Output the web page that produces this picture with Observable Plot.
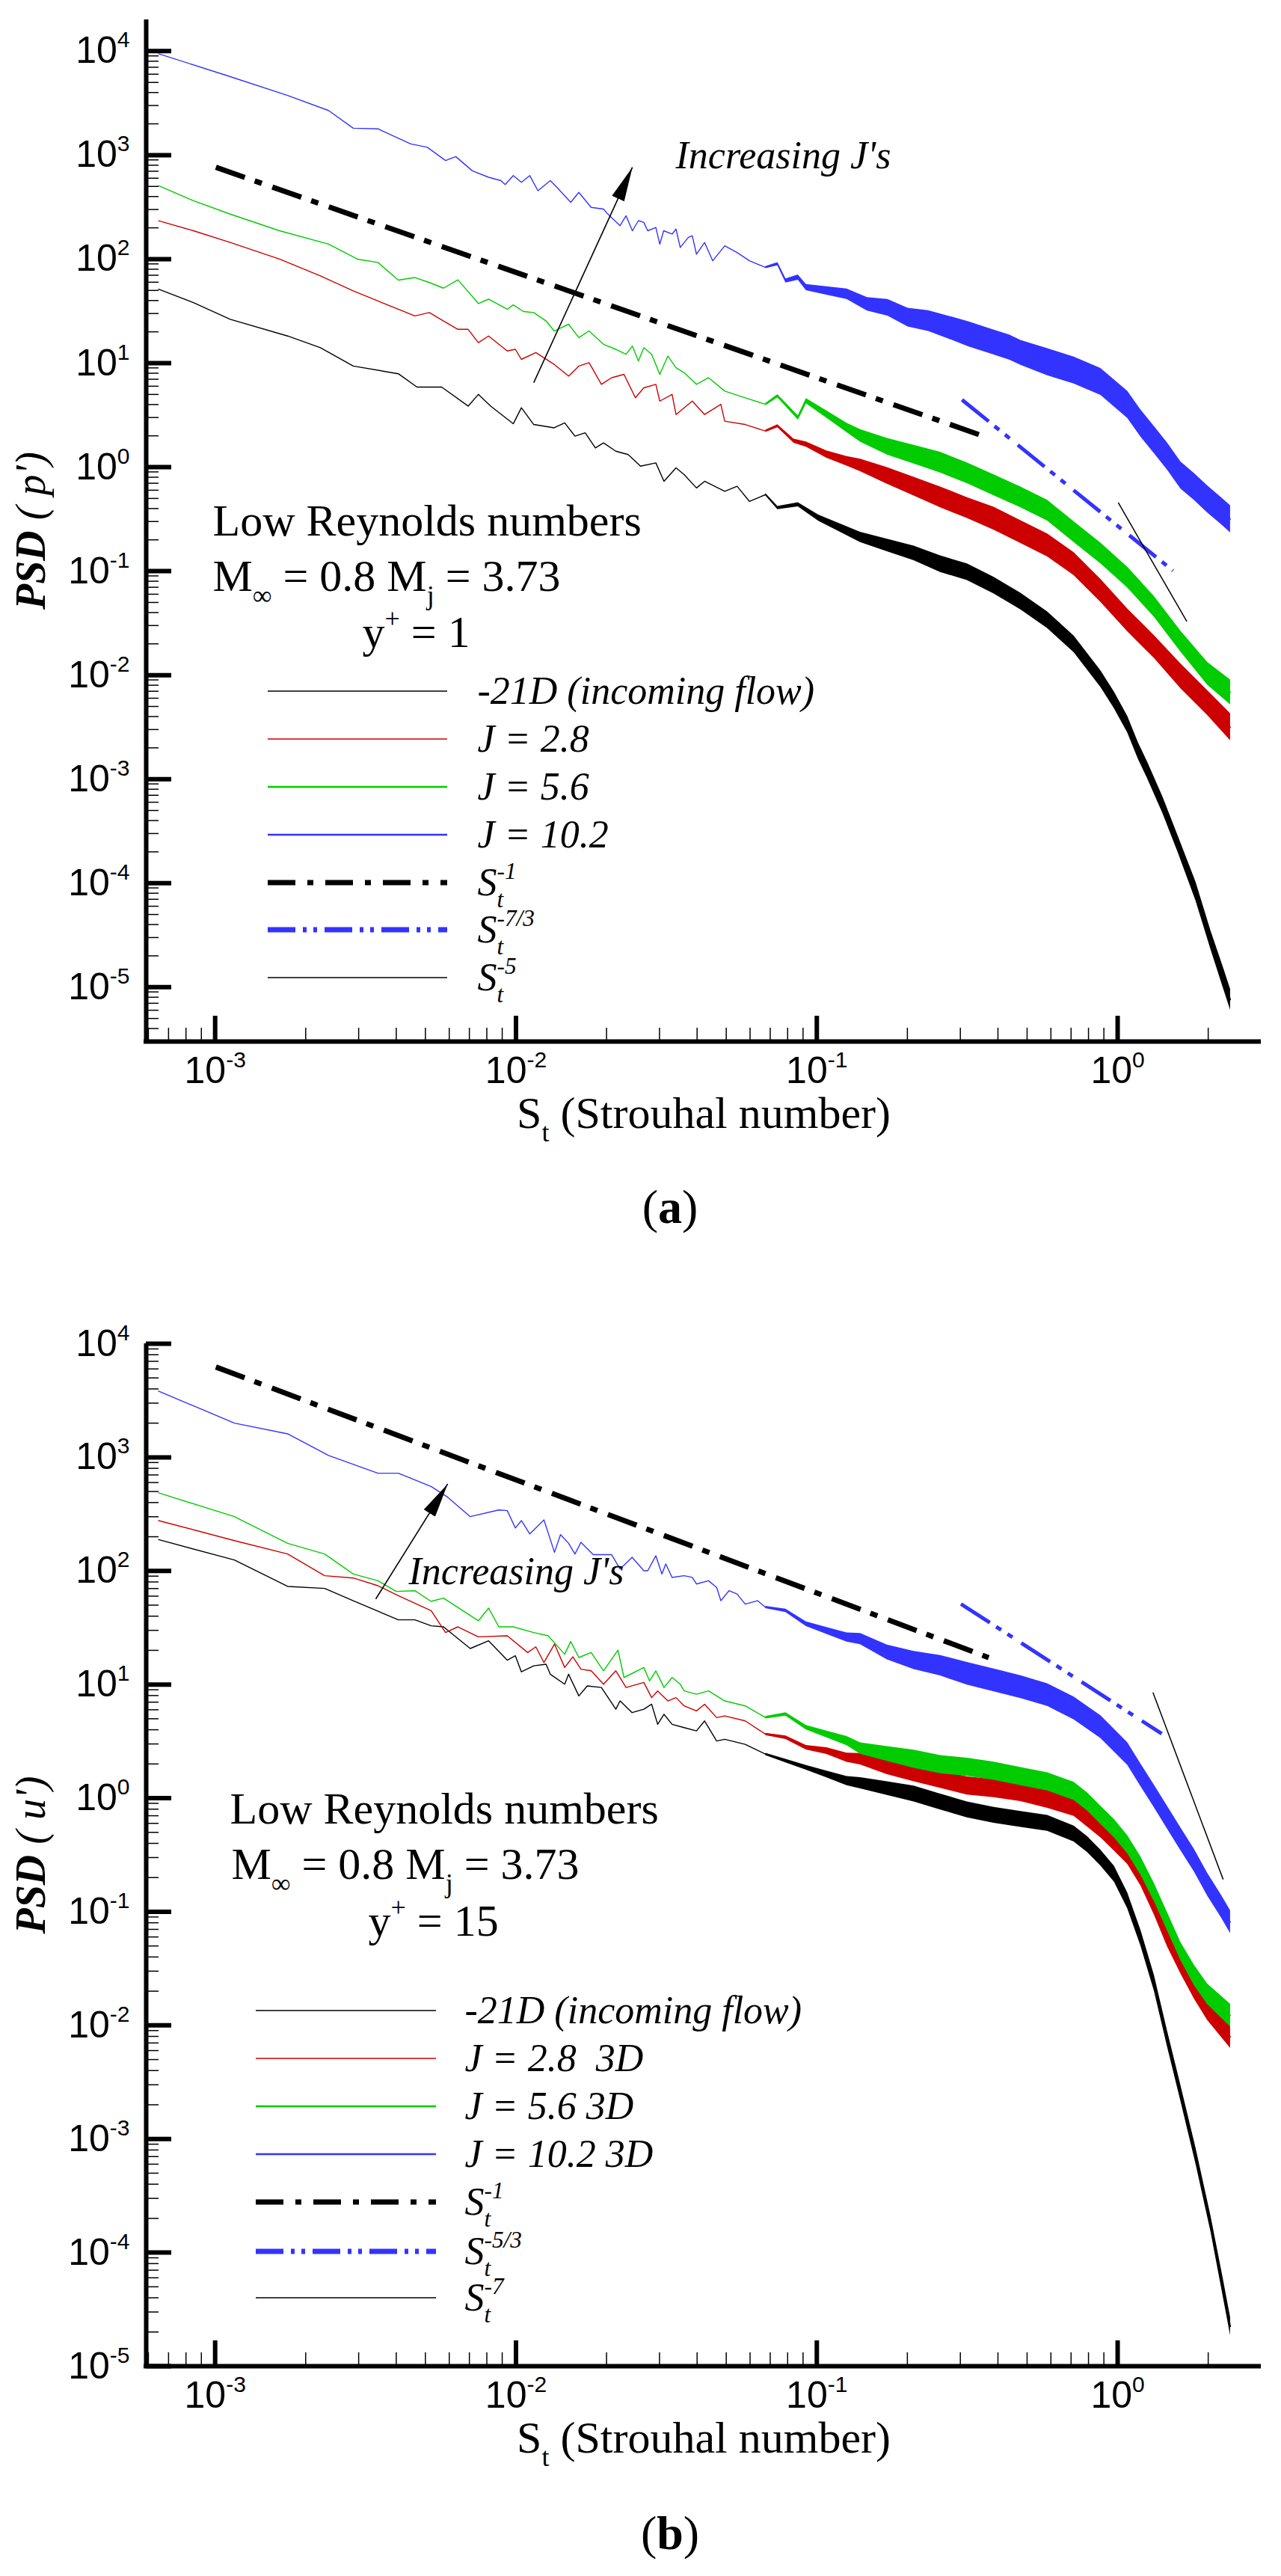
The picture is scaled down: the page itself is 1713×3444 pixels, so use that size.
<!DOCTYPE html>
<html><head><meta charset="utf-8">
<script src="https://cdn.jsdelivr.net/npm/d3@7"></script>
<script src="https://cdn.jsdelivr.net/npm/@observablehq/plot@0.6"></script>
<style>
body{margin:0;background:#fff;}
#page{position:relative;width:1713px;height:3444px;background:#fff;overflow:hidden;}
#page svg{position:absolute;left:0;}
.cap{position:absolute;font-family:"Liberation Serif",serif;font-size:64px;line-height:1;transform:translateX(-50%);white-space:nowrap;}
</style></head><body><div id="page"></div>
<script>
// ---------- data (log10 St, log10 PSD, noise half-width in decades) ----------
const A_incoming = [[-3.188,1.711],[-3.072,1.582],[-2.950,1.422],[-2.759,1.261],[-2.650,1.149],[-2.541,0.972],[-2.391,0.898],[-2.329,0.770],[-2.247,0.770],[-2.159,0.587],[-2.125,0.699],[-2.084,0.587],[-2.009,0.417],[-1.982,0.571],[-1.941,0.410],[-1.873,0.378],[-1.838,0.426],[-1.804,0.298],[-1.770,0.330],[-1.736,0.185],[-1.709,0.233],[-1.668,0.153],[-1.627,0.121],[-1.586,0.009],
[-1.535,0.041],[-1.508,-0.136],[-1.468,-0.007],[-1.441,-0.072],[-1.400,-0.200],[-1.373,-0.136],[-1.306,-0.232],[-1.265,-0.184],[-1.224,-0.329],[-1.170,-0.264,0.01],[-1.130,-0.393,0.015],[-1.062,-0.361,0.02],[-0.994,-0.489,0.03],
[-0.855,-0.675,0.05],[-0.766,-0.752,0.06],[-0.677,-0.829,0.07],[-0.589,-0.932,0.08],[-0.500,-1.009,0.08],[-0.411,-1.138,0.08],[-0.322,-1.292,0.08],[-0.233,-1.472,0.08],[-0.145,-1.703,0.08],[-0.056,-2.037,0.08],[-0.011,-2.243,0.08],[0.033,-2.474,0.08],[0.069,-2.731,0.08],[0.100,-2.920,0.08],[0.150,-3.250,0.08],[0.200,-3.620,0.08],[0.260,-4.080,0.09],[0.310,-4.550,0.09],[0.350,-4.900,0.1],[0.375,-5.120,0.1]];
const A_J28 = [[-3.188,2.369],[-3.072,2.273],[-2.950,2.160],[-2.786,2.000],[-2.650,1.839],[-2.541,1.695],[-2.459,1.598],[-2.336,1.454],[-2.288,1.486],[-2.241,1.406],[-2.193,1.325],[-2.159,1.325],[-2.125,1.197],[-2.091,1.261],[-2.029,1.117],[-2.002,1.133],[-1.982,1.036],[-1.934,1.101],[-1.873,0.988],[-1.825,0.876],[-1.791,0.972],[-1.757,1.004],[-1.716,0.796],[-1.682,0.860],[-1.641,0.892],[-1.603,0.667],[-1.575,0.763],
[-1.535,0.796],[-1.522,0.635],[-1.481,0.699],[-1.468,0.506],[-1.414,0.635],[-1.373,0.506],[-1.319,0.603],[-1.306,0.442],[-1.238,0.410],[-1.170,0.346,0.01],[-1.130,0.394,0.015],[-1.076,0.250,0.02],[-1.035,0.218,0.025],[-0.967,0.121,0.035],[-0.900,0.057,0.045],
[-0.855,0.018,0.06],[-0.766,-0.084,0.08],[-0.677,-0.187,0.09],[-0.589,-0.290,0.1],[-0.500,-0.392,0.1],[-0.411,-0.495,0.11],[-0.322,-0.624,0.11],[-0.233,-0.752,0.11],[-0.145,-0.932,0.11],[-0.056,-1.189,0.11],[0.033,-1.472,0.11],[0.122,-1.729,0.11],[0.210,-2.011,0.12],[0.299,-2.268,0.12],[0.375,-2.500,0.13]];
const A_J56 = [[-3.188,2.706],[-3.072,2.562],[-2.950,2.433],[-2.786,2.273],[-2.623,2.144],[-2.527,2.000],[-2.459,1.968],[-2.391,1.798],[-2.336,1.823],[-2.288,1.775],[-2.241,1.721],[-2.193,1.801],[-2.125,1.573],[-2.091,1.615],[-2.029,1.518],[-2.009,1.560],[-1.975,1.496],[-1.941,1.486],[-1.900,1.406],[-1.873,1.309],[-1.825,1.374],[-1.791,1.245],[-1.757,1.309],[-1.709,1.181],[-1.668,1.133],[-1.634,1.085],[-1.613,1.165],[-1.593,1.020],[-1.575,1.149],
[-1.549,1.085],[-1.522,0.892],[-1.495,1.068],[-1.468,0.956],[-1.441,0.908],[-1.400,0.796],[-1.360,0.860],[-1.306,0.731],[-1.238,0.667],[-1.170,0.603,0.01],[-1.130,0.683,0.015],[-1.062,0.474,0.02],[-1.035,0.635,0.025],[-0.967,0.506,0.035],[-0.900,0.378,0.045],
[-0.855,0.301,0.06],[-0.766,0.198,0.08],[-0.677,0.121,0.09],[-0.589,0.044,0.1],[-0.500,-0.058,0.1],[-0.411,-0.174,0.1],[-0.322,-0.290,0.1],[-0.233,-0.418,0.1],[-0.145,-0.624,0.1],[-0.056,-0.829,0.1],[0.033,-1.061,0.1],[0.122,-1.343,0.1],[0.210,-1.677,0.1],[0.299,-1.986,0.11],[0.375,-2.165,0.12]];
const A_J102 = [[-3.188,3.975],[-2.963,3.767],[-2.759,3.574],[-2.623,3.429],[-2.541,3.259],[-2.459,3.253],[-2.350,3.108],[-2.295,3.076],[-2.234,2.948],[-2.200,2.986],[-2.145,2.849],[-2.091,2.787],[-2.050,2.755],[-2.036,2.717],[-2.009,2.803],[-1.982,2.739],[-1.954,2.803],[-1.927,2.658],[-1.886,2.755],[-1.859,2.675],[-1.818,2.546],[-1.791,2.642],[-1.750,2.498],[-1.709,2.482],[-1.695,2.434],[-1.654,2.322],[-1.634,2.417],[-1.613,2.273],[-1.593,2.370],[-1.575,2.353],
[-1.562,2.273],[-1.535,2.305],[-1.522,2.144],[-1.509,2.273],[-1.481,2.241],[-1.468,2.289],[-1.454,2.112],[-1.427,2.209],[-1.414,2.225],[-1.400,2.048],[-1.373,2.160],[-1.346,1.984],[-1.306,2.128],[-1.265,2.064],[-1.224,1.984],[-1.170,1.920,0.01],[-1.130,1.952,0.015],[-1.103,1.791,0.02],[-1.062,1.823,0.025],[-1.035,1.727,0.03],[-0.967,1.695,0.04],[-0.900,1.663,0.05],[-0.832,1.566,0.065],[-0.764,1.534,0.08],[-0.697,1.438,0.09],[-0.629,1.406,0.1],[-0.561,1.342,0.11],[-0.494,1.277,0.12],[-0.426,1.213,0.12],[-0.358,1.149,0.12],
[-0.322,1.100,0.12],[-0.233,1.010,0.13],[-0.145,0.930,0.13],[-0.056,0.820,0.13],[0.033,0.600,0.13],[0.077,0.420,0.13],[0.122,0.260,0.13],[0.166,0.100,0.13],[0.210,-0.080,0.13],[0.255,-0.190,0.13],[0.299,-0.310,0.13],[0.344,-0.420,0.13],[0.375,-0.500,0.13]];

const B_incoming = [[-3.188,2.276],[-2.936,2.096],[-2.759,1.864],[-2.636,1.846],[-2.541,1.738],[-2.391,1.570],[-2.336,1.570],[-2.282,1.517],[-2.241,1.508],[-2.152,1.317],[-2.091,1.385],[-2.029,1.215],[-2.002,1.253],[-1.982,1.112],[-1.941,1.165],[-1.900,1.179],[-1.886,1.091],[-1.838,1.003],[-1.825,1.091],[-1.791,0.900],[-1.763,0.988],[-1.716,0.974],[-1.668,0.783],[-1.654,0.856],[-1.614,0.753],[-1.575,0.783],
[-1.549,0.827],[-1.529,0.650],[-1.508,0.738],[-1.481,0.650],[-1.441,0.621],[-1.400,0.592],[-1.373,0.680],[-1.333,0.503],[-1.306,0.518],[-1.238,0.474],[-1.170,0.386,0.01],[-1.103,0.327,0.015],[-1.035,0.268,0.02],[-0.967,0.209,0.03],[-0.900,0.151,0.04],
[-0.855,0.132,0.05],[-0.766,0.085,0.06],[-0.677,0.038,0.07],[-0.589,-0.033,0.07],[-0.500,-0.103,0.07],[-0.411,-0.150,0.07],[-0.322,-0.186,0.07],[-0.233,-0.221,0.07],[-0.145,-0.315,0.07],[-0.100,-0.409,0.07],[-0.056,-0.527,0.07],[-0.011,-0.668,0.07],[0.033,-0.903,0.07],[0.077,-1.232,0.07],[0.122,-1.632,0.07],[0.166,-2.125,0.07],[0.210,-2.600,0.07],[0.260,-3.150,0.07],[0.310,-3.750,0.07],[0.350,-4.300,0.08],[0.375,-4.650,0.08]];
const B_J28 = [[-3.188,2.443],[-2.936,2.267],[-2.759,2.149],[-2.636,1.958],[-2.541,1.938],[-2.459,1.870],[-2.391,1.782],[-2.282,1.650],[-2.234,1.458],[-2.193,1.508],[-2.125,1.420],[-2.029,1.429],[-1.961,1.282],[-1.934,1.332],[-1.907,1.194],[-1.872,1.356],[-1.838,1.150],[-1.811,1.244],[-1.784,1.135],[-1.750,1.121],[-1.709,1.003],[-1.668,1.121],[-1.634,0.974],[-1.575,1.018],
[-1.549,0.885],[-1.529,0.944],[-1.495,0.856],[-1.468,0.885],[-1.441,0.812],[-1.400,0.768],[-1.373,0.827],[-1.333,0.709],[-1.306,0.724],[-1.238,0.680],[-1.170,0.562,0.01],[-1.103,0.533,0.015],[-1.035,0.445,0.02],[-0.967,0.415,0.03],[-0.900,0.357,0.04],
[-0.855,0.343,0.05],[-0.766,0.273,0.065],[-0.677,0.226,0.08],[-0.589,0.167,0.08],[-0.500,0.108,0.08],[-0.411,0.085,0.08],[-0.322,0.050,0.08],[-0.233,-0.009,0.08],[-0.145,-0.080,0.08],[-0.100,-0.174,0.08],[-0.056,-0.268,0.08],[-0.011,-0.385,0.08],[0.033,-0.503,0.08],[0.077,-0.691,0.08],[0.122,-0.950,0.08],[0.166,-1.232,0.08],[0.210,-1.467,0.08],[0.255,-1.679,0.09],[0.299,-1.867,0.09],[0.375,-2.102,0.1]];
const B_J56 = [[-3.188,2.687],[-2.936,2.478],[-2.759,2.243],[-2.636,2.149],[-2.541,1.973],[-2.459,1.914],[-2.398,1.820],[-2.336,1.826],[-2.282,1.732],[-2.241,1.761],[-2.125,1.561],[-2.091,1.673],[-2.057,1.508],[-2.009,1.508],[-1.941,1.458],[-1.893,1.429],[-1.838,1.267],[-1.818,1.379],[-1.791,1.238],[-1.750,1.282],[-1.709,1.121],[-1.661,1.303],[-1.641,1.062],[-1.575,1.150],
[-1.556,1.032],[-1.535,1.120],[-1.508,0.974],[-1.481,1.062],[-1.454,1.003],[-1.441,0.944],[-1.400,0.915],[-1.360,0.944],[-1.306,0.856],[-1.238,0.812],[-1.170,0.709,0.01],[-1.103,0.738,0.015],[-1.035,0.621,0.02],[-0.967,0.562,0.03],[-0.900,0.503,0.04],
[-0.855,0.437,0.05],[-0.766,0.390,0.065],[-0.677,0.343,0.08],[-0.589,0.296,0.08],[-0.500,0.273,0.08],[-0.411,0.238,0.08],[-0.322,0.191,0.08],[-0.233,0.144,0.08],[-0.145,0.061,0.08],[-0.100,-0.033,0.08],[-0.056,-0.150,0.08],[-0.011,-0.268,0.08],[0.033,-0.409,0.08],[0.077,-0.597,0.08],[0.122,-0.832,0.08],[0.166,-1.091,0.08],[0.210,-1.350,0.08],[0.255,-1.561,0.09],[0.299,-1.726,0.09],[0.375,-1.914,0.1]];
const B_J102 = [[-3.188,3.583],[-2.936,3.301],[-2.759,3.207],[-2.623,3.016],[-2.459,2.860],[-2.391,2.860],[-2.282,2.743],[-2.227,2.649],[-2.152,2.478],[-2.057,2.537],[-2.029,2.531],[-2.002,2.378],[-1.982,2.443],[-1.954,2.326],[-1.907,2.449],[-1.872,2.164],[-1.852,2.320],[-1.825,2.243],[-1.804,2.149],[-1.784,2.252],[-1.743,2.143],[-1.682,2.143],[-1.654,2.017],[-1.614,2.120],[-1.575,2.002],
[-1.562,2.002],[-1.535,2.134],[-1.515,1.973],[-1.502,2.061],[-1.481,1.943],[-1.441,1.958],[-1.414,1.943],[-1.400,1.885],[-1.360,1.914],[-1.333,1.855],[-1.319,1.738],[-1.292,1.826],[-1.265,1.797],[-1.238,1.708],[-1.197,1.738],[-1.170,1.679,0.01],[-1.103,1.650,0.015],[-1.035,1.532,0.02],[-0.967,1.473,0.03],[-0.900,1.415,0.04],
[-0.855,1.401,0.05],[-0.766,1.284,0.065],[-0.677,1.213,0.08],[-0.589,1.166,0.09],[-0.500,1.096,0.1],[-0.411,1.037,0.1],[-0.322,0.978,0.1],[-0.233,0.908,0.1],[-0.145,0.790,0.1],[-0.056,0.626,0.1],[0.033,0.390,0.1],[0.077,0.202,0.1],[0.122,0.014,0.1],[0.166,-0.174,0.1],[0.210,-0.362,0.1],[0.255,-0.550,0.1],[0.299,-0.762,0.1],[0.344,-0.950,0.1],[0.375,-1.091,0.1]];

// power-law guide lines (end points, log10)
const A_slope1 = [[-2.9975,2.883],[-0.4287,0.2806]];
const A_slope73 = [[-0.5174,0.648],[0.1839,-0.996]];
const A_slope5 = [[0.0019,-0.341],[0.2300,-1.4846]];
const B_slope1 = [[-2.9975,3.795],[-0.4287,1.237]];
const B_slope53 = [[-0.5208,1.709],[0.1466,0.567]];
const B_slope7 = [[0.1173,0.931],[0.3508,-0.715]];
// "Increasing J's" arrows (tail, tip), log10
const A_arrow = [[-1.941,0.812],[-1.613,2.883]];
const B_arrow = [[-2.466,1.753],[-2.227,2.766]];

// axes / labels
const xDomain = [5.9e-4, 3.0];
const majorsX = [1e-3, 1e-2, 1e-1, 1];
const majorsY = [1e-5, 1e-4, 1e-3, 1e-2, 1e-1, 1, 1e1, 1e2, 1e3, 1e4];
const A_yDomain = [3e-6, 2e4];
const B_yDomain = [1e-5, 1e4];
const A_legend = ["-21D (incoming flow)", "J = 2.8", "J = 5.6", "J = 10.2", "S_{t}^{-1}", "S_{t}^{-7/3}", "S_{t}^{-5}"];
const B_legend = ["-21D (incoming flow)", "J = 2.8  3D", "J = 5.6 3D", "J = 10.2 3D", "S_{t}^{-1}", "S_{t}^{-5/3}", "S_{t}^{-7}"];
const A_notes = ["Low Reynolds numbers", "M_{∞} = 0.8 M_{j} = 3.73", "y^{+} = 1"];
const B_notes = ["Low Reynolds numbers", "M_{∞} = 0.8 M_{j} = 3.73", "y^{+} = 15"];
const incText = "Increasing J's";
const xTitle = "S_{t} (Strouhal number)";
const A_yTitle = "*{PSD} ( p')";
const B_yTitle = "*{PSD} ( u')";

const BLACK = "#000000", RED = "#cc0000", GREEN = "#00cc00", BLUE = "#3333ff";
const legendStyles = [
  {c: BLACK, w: 1.5}, {c: RED, w: 1.5}, {c: GREEN, w: 2.5}, {c: BLUE, w: 2.5},
  {c: BLACK, w: 7, dash: "37,16,8,16"}, {c: BLUE, w: 7, dash: "37,10,5,9,5,10"}, {c: BLACK, w: 1.5}
];

// ---------- helpers ----------
const NS = "http://www.w3.org/2000/svg";
function minorTicks([a, b]) {
  const out = [];
  for (let e = Math.floor(Math.log10(a)) - 1; e <= Math.ceil(Math.log10(b)); e++)
    for (let m = 2; m <= 9; m++) { const v = m * 10 ** e; if (v > a * 1.0001 && v < b * 0.9999) out.push(v); }
  return out;
}
const expLabel = d => `10^{${Math.round(Math.log10(d))}}`;
const toPts = arr => arr.map(([lx, ly, w = 0]) => ({St: 10 ** lx, P: 10 ** ly, lo: 10 ** (ly - w), hi: 10 ** (ly + w), w}));

function filledArrow(color, context) {
  const doc = (context && context.document) || document;
  const m = doc.createElementNS(NS, "marker");
  m.setAttribute("viewBox", "-46 -10 46 20");
  m.setAttribute("markerUnits", "userSpaceOnUse");
  m.setAttribute("markerWidth", "46");
  m.setAttribute("markerHeight", "20");
  m.setAttribute("refX", "0"); m.setAttribute("refY", "0");
  m.setAttribute("orient", "auto");
  const p = doc.createElementNS(NS, "path");
  p.setAttribute("d", "M0,0L-46,-9L-46,9Z");
  p.setAttribute("fill", color === "currentColor" ? "black" : color);
  p.setAttribute("stroke", "none");
  m.appendChild(p);
  return m;
}

function buildPanel(cfg, marker) {
  const W = 1713, mL = 195, mR = 27;
  const fw = W - mL - mR, fh = cfg.frameBottom - cfg.marginTop;
  const marks = [];
  for (const s of cfg.series) {
    const pts = toPts(s.data);
    marks.push(Plot.areaY(pts.filter(d => d.w > 0), {x: "St", y1: "lo", y2: "hi", fill: s.color, curve: "linear"}));
    marks.push(Plot.line(pts, {x: "St", y: "P", stroke: s.color, strokeWidth: 1.4}));
  }
  for (const l of cfg.laws) {
    marks.push(Plot.line(toPts(l.pts), {x: "St", y: "P", stroke: l.color, strokeWidth: l.w, strokeDasharray: l.dash, strokeLinecap: "butt"}));
  }
  marks.push(Plot.link([cfg.arrow], {
    x1: d => 10 ** d[0][0], y1: d => 10 ** d[0][1], x2: d => 10 ** d[1][0], y2: d => 10 ** d[1][1],
    stroke: "black", strokeWidth: 1.6, markerEnd: marker
  }));
  // axis lines and inward ticks
  marks.push(Plot.ruleX([xDomain[0]], {stroke: "black", strokeWidth: 6}));
  marks.push(Plot.ruleY([cfg.yDomain[0]], {stroke: "black", strokeWidth: 6, insetLeft: -3}));
  marks.push(Plot.tickX(majorsX, {x: d => d, stroke: "black", strokeWidth: 6, insetTop: fh - 34}));
  marks.push(Plot.tickX(minorTicks(xDomain), {x: d => d, stroke: "black", strokeWidth: 1.5, insetTop: fh - 18}));
  marks.push(Plot.tickY(majorsY.filter(v => v >= cfg.yDomain[0] && v <= cfg.yDomain[1]), {y: d => d, stroke: "black", strokeWidth: 6, insetRight: fw - 34}));
  marks.push(Plot.tickY(minorTicks(cfg.yDomain), {y: d => d, stroke: "black", strokeWidth: 1.5, insetRight: fw - 17}));
  marks.push(Plot.axisX(majorsX, {anchor: "bottom", tickSize: 0, tickPadding: 20, tickFormat: expLabel, fontSize: 50, fontFamily: "Liberation Sans", label: null}));
  marks.push(Plot.axisY(majorsY.filter(v => v >= cfg.yDomain[0] && v <= cfg.yDomain[1]), {anchor: "left", tickSize: 0, tickPadding: 22, tickFormat: expLabel, fontSize: 50, fontFamily: "Liberation Sans", label: null}));
  // titles
  marks.push(Plot.text([0], {text: () => xTitle, frameAnchor: "bottom", dy: 115, lineAnchor: "bottom", fontSize: 60, fontFamily: "Liberation Serif"}));
  marks.push(Plot.text([0], {text: () => cfg.yTitle, frameAnchor: "left", dx: -153, rotate: -90, textAnchor: "middle", lineAnchor: "middle", fontSize: 56, fontStyle: "italic", fontFamily: "Liberation Serif"}));
  // annotations
  cfg.notes.forEach((t, i) => {
    const [x, y] = cfg.notePos[i];
    marks.push(Plot.text([0], {text: () => t, frameAnchor: "top-left", dx: x - mL, dy: y - cfg.marginTop, textAnchor: "start", lineAnchor: "bottom", fontSize: 60, fontFamily: "Liberation Serif"}));
  });
  marks.push(Plot.text([0], {text: () => incText, frameAnchor: "top-left", dx: cfg.incPos[0] - mL, dy: cfg.incPos[1] - cfg.marginTop, textAnchor: "start", lineAnchor: "bottom", fontSize: 52, fontStyle: "italic", fontFamily: "Liberation Serif"}));
  // legend labels
  cfg.legend.forEach((t, i) => {
    marks.push(Plot.text([0], {text: () => t, frameAnchor: "top-left", dx: cfg.legTextX - mL, dy: cfg.legRows[i] - cfg.marginTop, textAnchor: "start", lineAnchor: "middle", fontSize: 52, fontStyle: "italic", fontFamily: "Liberation Serif"}));
  });
  const svg = Plot.plot({
    width: W, height: cfg.height,
    marginLeft: mL, marginRight: mR, marginTop: cfg.marginTop, marginBottom: cfg.height - cfg.frameBottom,
    x: {type: "log", domain: xDomain},
    y: {type: "log", domain: cfg.yDomain},
    style: {background: "white", overflow: "visible", fontFamily: "Liberation Serif"},
    marks
  });
  // legend swatches
  const g = d3.select(svg).append("g").attr("class", "legend-swatches");
  cfg.legRows.forEach((r, i) => {
    const st = legendStyles[i];
    g.append("line").attr("x1", cfg.legX[0]).attr("x2", cfg.legX[1]).attr("y1", r).attr("y2", r)
      .attr("stroke", st.c).attr("stroke-width", st.w).attr("stroke-dasharray", st.dash || null);
  });
  return svg;
}

function richify(el) {
  const raw = el.textContent;
  if (!/[\^_*]\{/.test(raw)) return;
  const fs = parseFloat(getComputedStyle(el).fontSize) || 50;
  const tokens = [];
  let i = 0, buf = "";
  while (i < raw.length) {
    const c = raw[i];
    if ((c === "^" || c === "_" || c === "*") && raw[i + 1] === "{") {
      if (buf) tokens.push({type: "n", text: buf});
      buf = "";
      const j = raw.indexOf("}", i + 2);
      tokens.push({type: c === "^" ? "sup" : c === "_" ? "sub" : "b", text: raw.slice(i + 2, j)});
      i = j + 1;
    } else { buf += c; i++; }
  }
  if (buf) tokens.push({type: "n", text: buf});
  el.textContent = "";
  el.setAttribute("xml:space", "preserve");
  el.style.whiteSpace = "pre";
  let cur = 0, prev = null;
  for (const t of tokens) {
    const ts = document.createElementNS(NS, "tspan");
    ts.textContent = t.text;
    let target = 0;
    if (t.type === "sup") { target = -0.42 * fs; ts.setAttribute("font-size", 0.6 * fs); }
    else if (t.type === "sub") { target = 0.3 * fs; ts.setAttribute("font-size", 0.6 * fs); }
    else if (t.type === "b") { ts.setAttribute("font-weight", "bold"); }
    const dy = target - cur;
    if (dy) ts.setAttribute("dy", dy.toFixed(2));
    cur = target;
    el.appendChild(ts);
    if (t.type === "sup" && prev && prev.type === "sub") {
      const w = prev.el.getComputedTextLength();
      ts.setAttribute("dx", (-w).toFixed(2));
    }
    prev = {type: t.type, el: ts};
  }
}

const panelA = {
  height: 1560, marginTop: 26, frameBottom: 1392, yDomain: A_yDomain,
  series: [{data: A_incoming, color: BLACK}, {data: A_J28, color: RED}, {data: A_J56, color: GREEN}, {data: A_J102, color: BLUE}],
  laws: [
    {pts: A_slope1, color: BLACK, w: 7, dash: "41,14,10,15"},
    {pts: A_slope73, color: BLUE, w: 5, dash: "46,10,8,10,8,14"},
    {pts: A_slope5, color: BLACK, w: 1.5}
  ],
  arrow: A_arrow, yTitle: A_yTitle,
  notes: A_notes, notePos: [[284, 715], [284, 789], [484, 864]], incPos: [903, 224],
  legend: A_legend, legRows: [924, 988, 1052, 1116, 1180, 1243, 1307], legX: [358, 598], legTextX: 638
};
const panelB = {
  height: 1640, marginTop: 116, frameBottom: 1483, yDomain: B_yDomain,
  series: [{data: B_incoming, color: BLACK}, {data: B_J28, color: RED}, {data: B_J56, color: GREEN}, {data: B_J102, color: BLUE}],
  laws: [
    {pts: B_slope1, color: BLACK, w: 7, dash: "41,14,10,15"},
    {pts: B_slope53, color: BLUE, w: 5, dash: "46,10,8,10,8,14"},
    {pts: B_slope7, color: BLACK, w: 1.5}
  ],
  arrow: B_arrow, yTitle: B_yTitle,
  notes: B_notes, notePos: [[307, 757], [309, 831], [492, 907]], incPos: [546, 437],
  legend: B_legend, legRows: [1008, 1072, 1136, 1200, 1264, 1330, 1392], legX: [342, 583], legTextX: 621
};

function safeBuild(cfg) {
  try { return buildPanel(cfg, filledArrow); }
  catch (e) { console.warn("custom marker failed", e); return buildPanel(cfg, "arrow"); }
}

const page = document.getElementById("page");
const svgA = safeBuild(panelA);
svgA.style.top = "0px";
page.appendChild(svgA);
const svgB = safeBuild(panelB);
svgB.style.top = "1680px";
page.appendChild(svgB);

const capA = document.createElement("div");
capA.className = "cap"; capA.style.left = "896px"; capA.style.top = "1582px";
capA.innerHTML = "(<b>a</b>)";
page.appendChild(capA);
const capB = document.createElement("div");
capB.className = "cap"; capB.style.left = "896px"; capB.style.top = "3355px";
capB.innerHTML = "(<b>b</b>)";
page.appendChild(capB);

page.querySelectorAll("svg text").forEach(richify);
</script></body></html>
